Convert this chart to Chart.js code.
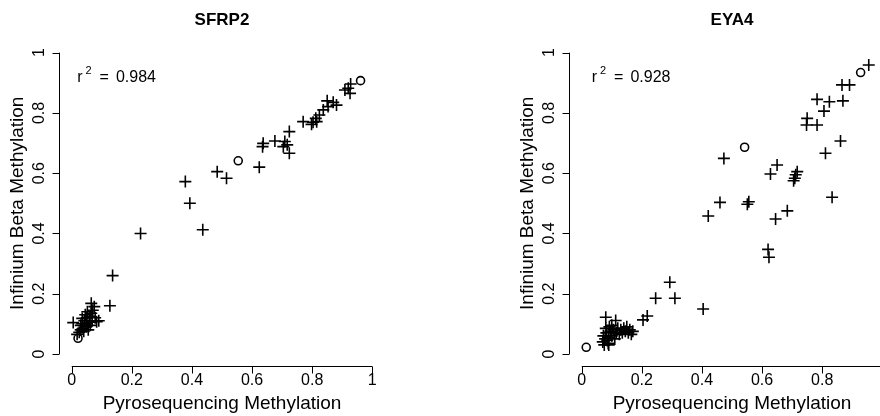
<!DOCTYPE html>
<html>
<head>
<meta charset="utf-8">
<script src="https://cdn.jsdelivr.net/npm/chart.js@4.4.1/dist/chart.umd.min.js"></script>
<style>
  body { margin: 0; width: 880px; height: 416px; overflow: hidden; position: relative; background: #fff; }
  canvas { position: absolute; top: 0; }
</style>
</head>
<body>
<canvas id="sfrp2" width="510" height="416" style="left:0"></canvas>
<canvas id="eya4" width="510" height="416" style="left:510px"></canvas>
<script>
// axis ticks shared by both panels
const tickValues = [0, 0.2, 0.4, 0.6, 0.8, 1];
const tickLabels = ['0', '0.2', '0.4', '0.6', '0.8', '1'];
const xTitle = 'Pyrosequencing Methylation';
const yTitle = 'Infinium Beta Methylation';

// SFRP2: [pyro, infinium]
const sfrp2Plus = [
  [0.005, 0.104], [0.018, 0.065], [0.025, 0.072], [0.03, 0.08], [0.03, 0.095],
  [0.035, 0.10], [0.035, 0.118], [0.038, 0.085], [0.04, 0.075], [0.042, 0.11],
  [0.045, 0.13], [0.048, 0.09], [0.05, 0.12], [0.05, 0.10], [0.052, 0.14],
  [0.055, 0.08], [0.058, 0.105], [0.06, 0.125], [0.062, 0.095], [0.065, 0.135],
  [0.065, 0.168], [0.068, 0.11], [0.07, 0.145], [0.075, 0.157], [0.078, 0.12],
  [0.083, 0.107], [0.09, 0.11], [0.127, 0.16], [0.136, 0.26], [0.229, 0.40],
  [0.378, 0.572], [0.393, 0.50], [0.436, 0.412], [0.484, 0.605], [0.515, 0.583],
  [0.624, 0.62], [0.637, 0.699], [0.635, 0.688], [0.676, 0.707], [0.709, 0.705],
  [0.704, 0.688], [0.717, 0.694], [0.724, 0.738], [0.724, 0.666], [0.770, 0.771],
  [0.798, 0.762], [0.803, 0.769], [0.815, 0.771], [0.812, 0.782], [0.824, 0.793],
  [0.837, 0.81], [0.853, 0.821], [0.850, 0.840], [0.870, 0.835], [0.881, 0.826],
  [0.909, 0.876], [0.926, 0.865], [0.928, 0.896], [0.920, 0.882]
];
const sfrp2Circle = [[0.021, 0.052], [0.554, 0.641], [0.961, 0.907]];
const sfrp2R2 = '0.984';

// EYA4: [pyro, infinium]
const eya4Plus = [
  [0.07, 0.04], [0.072, 0.06], [0.075, 0.03], [0.078, 0.05], [0.08, 0.122],
  [0.08, 0.085], [0.082, 0.07], [0.085, 0.045], [0.088, 0.035], [0.09, 0.055],
  [0.092, 0.09], [0.095, 0.075], [0.10, 0.06], [0.10, 0.095], [0.105, 0.08],
  [0.11, 0.05], [0.113, 0.111], [0.115, 0.07], [0.12, 0.085], [0.125, 0.065],
  [0.13, 0.08], [0.135, 0.07], [0.14, 0.085], [0.145, 0.075], [0.15, 0.09],
  [0.155, 0.07], [0.16, 0.08], [0.165, 0.065], [0.17, 0.075], [0.09, 0.03],
  [0.204, 0.113], [0.218, 0.126], [0.246, 0.185], [0.293, 0.238], [0.310, 0.185],
  [0.404, 0.149], [0.421, 0.458], [0.460, 0.503], [0.473, 0.649], [0.551, 0.497],
  [0.556, 0.505], [0.620, 0.347], [0.623, 0.321], [0.628, 0.597], [0.645, 0.448],
  [0.650, 0.627], [0.684, 0.475], [0.705, 0.575], [0.709, 0.583], [0.712, 0.595],
  [0.717, 0.605], [0.748, 0.760], [0.750, 0.782], [0.783, 0.760], [0.783, 0.845],
  [0.806, 0.806], [0.811, 0.666], [0.824, 0.837], [0.833, 0.520], [0.861, 0.707],
  [0.869, 0.840], [0.866, 0.893], [0.891, 0.893], [0.955, 0.959]
];
const eya4Circle = [[0.015, 0.022], [0.542, 0.686], [0.928, 0.934]];
const eya4R2 = '0.928';

const FONT = '"Liberation Sans", Arial, Helvetica, sans-serif';

// R-style axes, labels and titles drawn from the chart's scales
const rAxes = {
  id: 'rAxes',
  afterDraw(chart, args, opts) {
    const { ctx, chartArea: area, scales: { x, y } } = chart;
    ctx.save();
    ctx.strokeStyle = '#000';
    ctx.fillStyle = '#000';
    ctx.lineWidth = 1;

    const xb = Math.round(area.bottom) + 0.5;
    const yl = Math.round(area.left) - 0.5;

    // x axis
    ctx.beginPath();
    ctx.moveTo(x.getPixelForValue(0), xb);
    ctx.lineTo(x.getPixelForValue(1), xb);
    tickValues.forEach((v) => {
      const px = Math.round(x.getPixelForValue(v)) + 0.5;
      ctx.moveTo(px, xb);
      ctx.lineTo(px, xb + 7);
    });
    // y axis
    ctx.moveTo(yl, y.getPixelForValue(0));
    ctx.lineTo(yl, y.getPixelForValue(1));
    tickValues.forEach((v) => {
      const py = Math.round(y.getPixelForValue(v)) + 0.5;
      ctx.moveTo(yl, py);
      ctx.lineTo(yl - 7, py);
    });
    ctx.stroke();

    ctx.font = '16px ' + FONT;
    ctx.textAlign = 'center';
    ctx.textBaseline = 'middle';
    tickValues.forEach((v, i) => {
      if (v > opts.xLabelMax) return; // cut off by the figure edge
      ctx.fillText(tickLabels[i], x.getPixelForValue(v), area.bottom + 15);
    });
    tickValues.forEach((v, i) => {
      ctx.save();
      ctx.translate(area.left - 20.4, y.getPixelForValue(v));
      ctx.rotate(-Math.PI / 2);
      ctx.fillText(tickLabels[i], 0, 0);
      ctx.restore();
    });

    // axis titles
    const cx = (area.left + area.right) / 2;
    const cy = (area.top + area.bottom) / 2;
    ctx.font = '19px ' + FONT;
    ctx.fillText(xTitle, cx, area.bottom + 37.5);
    ctx.save();
    ctx.translate(area.left - 42.4, cy);
    ctx.rotate(-Math.PI / 2);
    ctx.fillText(yTitle, 0, 0);
    ctx.restore();

    // main title
    ctx.font = 'bold 17px ' + FONT;
    ctx.fillText(opts.title, cx, area.top - 20.5);

    // r^2 annotation
    ctx.textAlign = 'left';
    ctx.textBaseline = 'alphabetic';
    let tx = x.getPixelForValue(opts.r2x);
    const ty = y.getPixelForValue(0.92) + 5.5;
    ctx.font = '16px ' + FONT;
    ctx.fillText('r', tx, ty);
    tx += ctx.measureText('r').width + 3;
    ctx.font = '11px ' + FONT;
    ctx.fillText('2', tx, ty - 8);
    tx += ctx.measureText('2').width + 8;
    ctx.font = '16px ' + FONT;
    ctx.fillText('=', tx, ty);
    tx += ctx.measureText('=').width + 7;
    ctx.fillText(opts.r2, tx, ty);
    ctx.restore();
  }
};

function toPoints(arr) {
  return arr.map(([px, iv]) => ({ x: px, y: iv }));
}

function makeChart(id, title, plus, circle, r2, r2x, xLabelMax) {
  return new Chart(document.getElementById(id), {
    type: 'scatter',
    data: {
      datasets: [
        {
          data: toPoints(plus),
          pointStyle: 'cross',
          pointRadius: 6,
          borderColor: '#000',
          borderWidth: 1.6,
        },
        {
          data: toPoints(circle),
          pointStyle: 'circle',
          pointRadius: 4,
          borderColor: '#000',
          backgroundColor: 'rgba(0,0,0,0)',
          borderWidth: 1.6,
        },
      ],
    },
    options: {
      responsive: false,
      animation: false,
      events: [],
      layout: { padding: { left: 59.7, right: 125.7, top: 40.6, bottom: 50 } },
      scales: {
        x: { type: 'linear', min: -0.04, max: 1.04, display: false },
        y: { type: 'linear', min: -0.04, max: 1.04, display: false },
      },
      plugins: {
        legend: { display: false },
        tooltip: { enabled: false },
        rAxes: { title: title, r2: r2, r2x: r2x, xLabelMax: xLabelMax },
      },
    },
    plugins: [rAxes],
  });
}

makeChart('sfrp2', 'SFRP2', sfrp2Plus, sfrp2Circle, sfrp2R2, 0.018, 1);
makeChart('eya4', 'EYA4', eya4Plus, eya4Circle, eya4R2, 0.033, 0.8);
</script>
</body>
</html>
